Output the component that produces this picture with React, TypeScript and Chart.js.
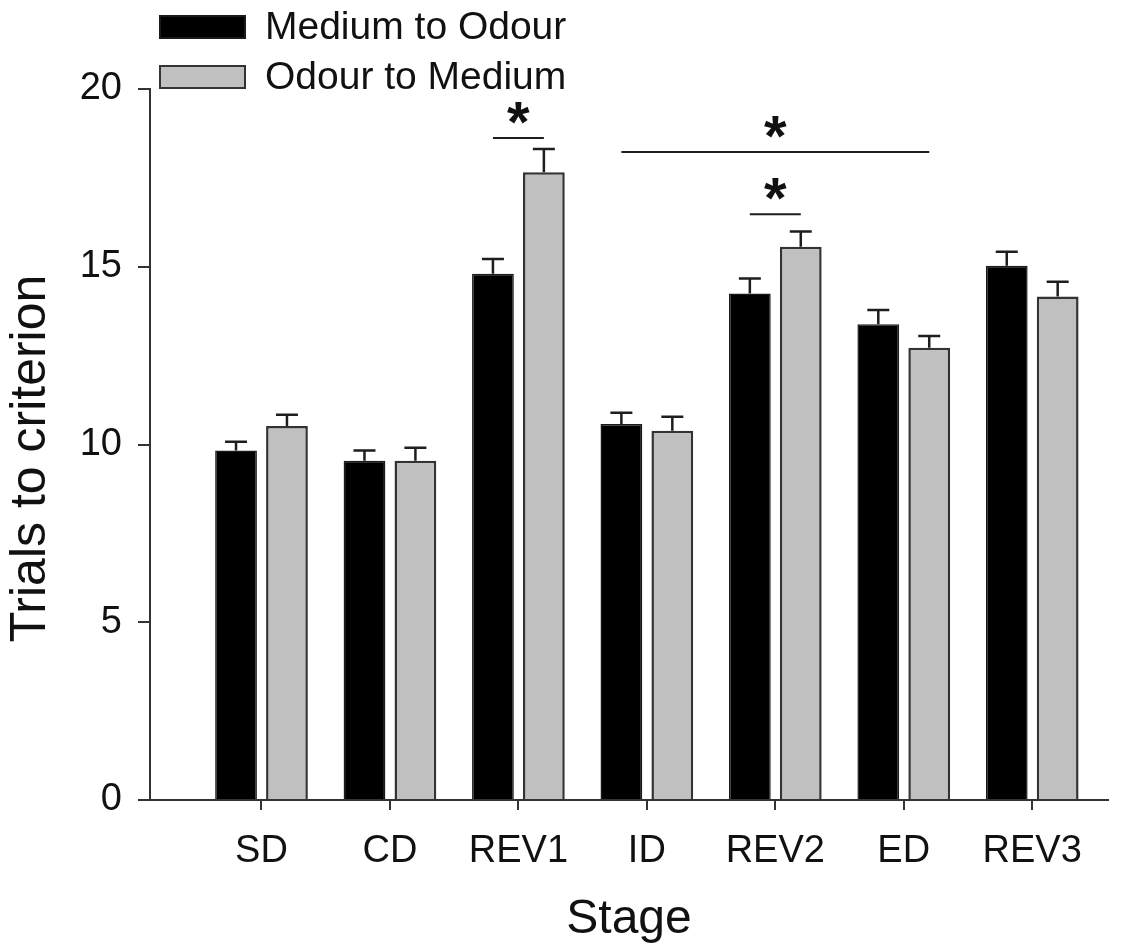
import React, { useEffect, useRef } from 'react';
import { Chart, registerables } from 'chart.js';

Chart.register(...registerables);

const FONT = '"Liberation Sans", Arial, Helvetica, sans-serif';

const stages = ['SD', 'CD', 'REV1', 'ID', 'REV2', 'ED', 'REV3'];
const seriesLabels = ['Medium to Odour', 'Odour to Medium'];
const mediumToOdour = [9.83, 9.54, 14.8, 10.58, 14.25, 13.38, 15.03];
const mediumToOdourSem = [0.25, 0.29, 0.42, 0.31, 0.42, 0.4, 0.39];
const odourToMedium = [10.52, 9.54, 17.66, 10.39, 15.56, 12.72, 14.16];
const odourToMediumSem = [0.32, 0.37, 0.65, 0.39, 0.43, 0.33, 0.42];
const yTicks = [0, 5, 10, 15, 20];
const xTitle = 'Stage';
const yTitle = 'Trials to criterion';

// significance brackets: from the black bar of sigFromStage to the grey bar of sigToStage
const sigFromStage = [2, 3, 4];
const sigToStage = [2, 5, 4];
const sigLevel = [18.62, 18.23, 16.48];
const sigMark = ['*', '*', '*'];

const semByDataset = [mediumToOdourSem, odourToMediumSem];

const overlayPlugin = {
  id: 'overlay',
  afterDatasetsDraw(chart: any) {
    const { ctx, scales } = chart;
    const y = scales.y;
    ctx.save();
    // error bars (upper only)
    chart.data.datasets.forEach((ds: any, di: number) => {
      const meta = chart.getDatasetMeta(di);
      meta.data.forEach((bar: any, i: number) => {
        const v = ds.data[i].y;
        const top = y.getPixelForValue(v);
        const cap = y.getPixelForValue(v + semByDataset[di][i]);
        ctx.strokeStyle = '#1e1e1e';
        ctx.lineWidth = 2.5;
        ctx.beginPath();
        ctx.moveTo(bar.x, top);
        ctx.lineTo(bar.x, cap);
        ctx.moveTo(bar.x - 11, cap);
        ctx.lineTo(bar.x + 11, cap);
        ctx.stroke();
      });
    });
    // significance lines
    const m0 = chart.getDatasetMeta(0);
    const m1 = chart.getDatasetMeta(1);
    sigLevel.forEach((lvl, k) => {
      const x1 = m0.data[sigFromStage[k]].x;
      const x2 = m1.data[sigToStage[k]].x;
      const py = y.getPixelForValue(lvl);
      ctx.strokeStyle = '#1e1e1e';
      ctx.lineWidth = 2;
      ctx.beginPath();
      ctx.moveTo(x1, py);
      ctx.lineTo(x2, py);
      ctx.stroke();
      ctx.fillStyle = '#111';
      ctx.font = `bold 58px ${FONT}`;
      ctx.textAlign = 'center';
      ctx.textBaseline = 'alphabetic';
      ctx.fillText(sigMark[k], (x1 + x2) / 2, py + 4);
    });
    ctx.restore();
  },
  afterDraw(chart: any) {
    const { ctx, chartArea } = chart;
    ctx.save();
    // legend
    const rows = [27, 77];
    chart.data.datasets.forEach((ds: any, di: number) => {
      const cy = rows[di];
      ctx.fillStyle = ds.backgroundColor;
      ctx.fillRect(160, cy - 11, 85, 22);
      ctx.strokeStyle = ds.borderColor;
      ctx.lineWidth = 2;
      ctx.strokeRect(160, cy - 11, 85, 22);
      ctx.fillStyle = '#111';
      ctx.font = `39px ${FONT}`;
      ctx.textAlign = 'left';
      ctx.textBaseline = 'middle';
      ctx.fillText(ds.label, 265, cy + 1);
    });
    // y-axis title
    ctx.translate(31, (chartArea.top + chartArea.bottom) / 2 + 14);
    ctx.rotate(-Math.PI / 2);
    ctx.fillStyle = '#111';
    ctx.font = `50px ${FONT}`;
    ctx.textAlign = 'center';
    ctx.textBaseline = 'middle';
    ctx.fillText(yTitle, 0, 0);
    ctx.restore();
  },
};

export default function App() {
  const canvasRef = useRef<HTMLCanvasElement | null>(null);

  useEffect(() => {
    document.body.style.margin = '0';
    const canvas = canvasRef.current;
    if (!canvas) return;
    const chart = new Chart(canvas, {
      type: 'bar',
      data: {
        datasets: [
          {
            label: seriesLabels[0],
            data: stages.map((_, i) => ({ x: i, y: mediumToOdour[i] })),
            backgroundColor: '#000000',
            borderColor: '#1a1a1a',
            borderWidth: 1.5,
            categoryPercentage: 0.793,
            barPercentage: 0.82,
          },
          {
            label: seriesLabels[1],
            data: stages.map((_, i) => ({ x: i, y: odourToMedium[i] })),
            backgroundColor: '#c0c0c0',
            borderColor: '#333333',
            borderWidth: 2.5,
            categoryPercentage: 0.793,
            barPercentage: 0.82,
          },
        ] as any,
      },
      options: {
        responsive: false,
        animation: false,
        devicePixelRatio: 1,
        layout: { padding: { top: 89, right: 30, left: 0, bottom: 0 } },
        plugins: {
          legend: { display: false },
          tooltip: { enabled: false },
        },
        scales: {
          x: {
            type: 'linear',
            min: -0.868,
            max: 6.59,
            offset: false,
            afterBuildTicks: (s: any) => {
              s.ticks = stages.map((_, i) => ({ value: i }));
            },
            afterFit: (s: any) => {
              s.height = 149;
            },
            grid: {
              display: true,
              offset: false,
              drawOnChartArea: false,
              drawTicks: true,
              tickLength: 10,
              color: '#333',
              lineWidth: 2,
            },
            border: { display: true, color: '#333', width: 2 },
            ticks: {
              callback: (v: any) => stages[v],
              font: { size: 38, family: FONT },
              color: '#111',
              padding: 19,
              maxRotation: 0,
              autoSkip: false,
            },
            title: {
              display: true,
              text: xTitle,
              font: { size: 48, family: FONT },
              color: '#111',
              padding: { top: 0, bottom: 0 },
            },
          },
          y: {
            min: 0,
            max: 20,
            afterBuildTicks: (s: any) => {
              s.ticks = yTicks.map((v) => ({ value: v }));
            },
            afterFit: (s: any) => {
              s.width = 150;
            },
            grid: {
              display: true,
              drawOnChartArea: false,
              drawTicks: true,
              tickLength: 12,
              color: '#333',
              lineWidth: 2,
            },
            border: { display: true, color: '#333', width: 2 },
            ticks: {
              font: { size: 38, family: FONT },
              color: '#111',
              padding: 16,
            },
            title: { display: false },
          },
        },
      } as any,
      plugins: [overlayPlugin],
    });
    return () => chart.destroy();
  }, []);

  return (
    <div style={{ width: 1138, height: 949 }}>
      <canvas ref={canvasRef} width={1138} height={949} />
    </div>
  );
}
